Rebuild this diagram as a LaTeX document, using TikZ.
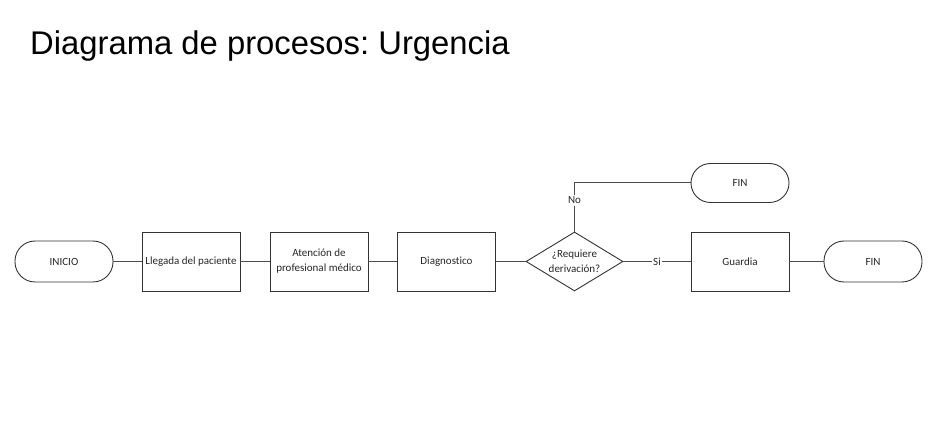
\documentclass[tikz,border=0pt]{standalone}
\usepackage{fontspec}
\setmainfont[Ligatures=NoCommon]{Carlito}
\newfontfamily\titlefont{Liberation Sans}
\frenchspacing
\usetikzlibrary{shapes.geometric}
\begin{document}
\begin{tikzpicture}[x=1pt,y=-1pt,
  every node/.style={font=\fontsize{11}{15}\selectfont, text=black!85},
  terminal/.style={draw=black!80, line width=0.9pt, rounded corners=20pt, minimum width=98pt, minimum height=41pt, inner sep=0pt},
  procbox/.style={draw=black!80, line width=0.9pt, minimum width=98pt, minimum height=59pt, inner sep=1pt, align=center},
  decision/.style={draw=black!80, line width=0.9pt, diamond, minimum width=97pt, minimum height=59pt, inner sep=0pt},
  conn/.style={draw=black!70, line width=1pt},
  lbl/.style={fill=white, inner sep=1.5pt}
]
\useasboundingbox (0,0) rectangle (932,427);
\node[anchor=base west, font=\titlefont\fontsize{32.8}{36}\selectfont, text=black, inner sep=0pt] (title) at (30,55) {Diagrama de procesos: Urgencia};

\node[terminal] (ini) at (64,261.5) {INICIO};
\node[procbox] (lleg) at (191,261.5) {Llegada del paciente};
\node[procbox] (aten) at (319,261.5) {Atención de\\profesional médico};
\node[procbox] (diag) at (446.5,261.5) {Diagnostico};
\node[decision, label={[align=center, font=\fontsize{11}{15}\selectfont, text=black!85]center:¿Requiere\\derivación?}] (dec) at (574.5,261.5) {};
\node[procbox] (guar) at (740,261.5) {Guardia};
\node[terminal] (fin) at (873,261.5) {FIN};
\node[terminal, minimum height=39pt, rounded corners=19.5pt] (fintop) at (740,183) {FIN};

\draw[conn] (ini) -- (lleg);
\draw[conn] (lleg) -- (aten);
\draw[conn] (aten) -- (diag);
\draw[conn] (diag) -- (dec);
\draw[conn] (dec.east) -- node[lbl] (si) {Si} (guar.west);
\draw[conn] (guar) -- (fin);
\draw[conn] (dec.north) |- node[lbl, pos=0.32] (no) {No} (fintop.west);
\end{tikzpicture}
\end{document}
